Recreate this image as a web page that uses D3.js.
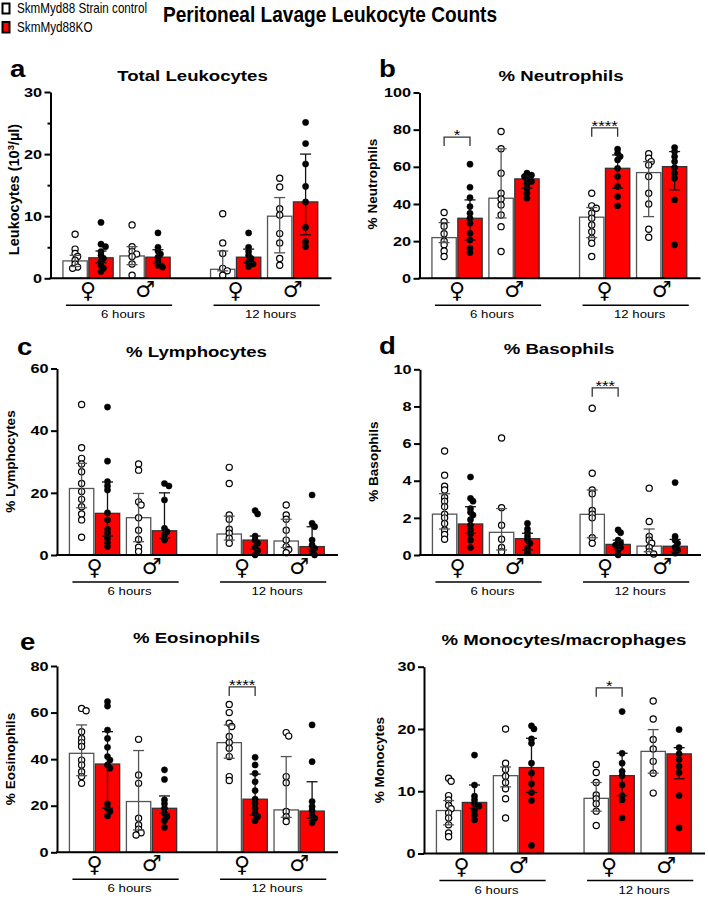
<!DOCTYPE html>
<html><head><meta charset="utf-8">
<script src="https://cdn.jsdelivr.net/npm/d3@7"></script>
<style>body{margin:0;background:#fff}svg{display:block}</style>
</head><body>
<script>
// ---------- DATA ----------
const genotypes = ["SkmMyd88 Strain control", "SkmMyd88KO"];
const sexes = ["♀", "♂"];
const timeLabels = ["6 hours", "12 hours"];
// order of groups: [6h F ctrl, 6h F KO, 6h M ctrl, 6h M KO, 12h F ctrl, 12h F KO, 12h M ctrl, 12h M KO]

// a: Total leukocytes
const aTicks = [0, 10, 20, 30];
const aMinorTicks = [5, 15, 25];
const aMeans = [2.8, 3.3, 3.6, 3.4, 1.45, 3.4, 10.0, 12.3];
const aHi = [3.7, 4.4, 5.1, 4.6, 4.4, 4.7, 13.0, 20.0];
const aLo = [1.9, 2.5, 2.2, 2.4, 1.2, 2.5, 4.1, 7.0];
const aPoints = [
  [7.1, 4.7, 4.0, 3.5, 2.9, 2.3, 1.8, 1.6],
  [9.0, 5.5, 5.1, 4.3, 3.7, 3.2, 2.7, 2.1, 1.6, 1.1],
  [8.6, 5.1, 4.3, 3.9, 3.5, 2.3, 0.5],
  [7.3, 5.0, 4.4, 3.9, 3.4, 2.7, 2.1, 1.8],
  [10.4, 5.7, 4.0, 1.6, 1.2, 0.5],
  [7.3, 5.0, 4.3, 3.7, 3.2, 2.7, 2.3, 1.9],
  [16.1, 14.7, 11.2, 10.2, 7.2, 5.7, 3.2, 2.1],
  [25.1, 21.7, 18.4, 14.8, 12.3, 8.2, 5.9, 5.1]
];

// b: % Neutrophils
const bTicks = [0, 20, 40, 60, 80, 100];
const bMeans = [21.9, 32.3, 43.1, 53.5, 32.9, 59.2, 56.9, 60.1];
const bHi = [30.0, 42.2, 69.7, 55.1, 38.1, 66.4, 62.8, 68.2];
const bLo = [19.2, 20.6, 32.5, 48.5, 21.9, 48.5, 33.2, 47.6];
const bPoints = [
  [35.4, 30.5, 28, 24, 20, 18, 14.7, 11.7],
  [61.4, 49.0, 43.4, 38.6, 35.0, 32.3, 29.6, 24.2, 20.6, 16.2, 13.8],
  [79.0, 69.7, 56.6, 45.8, 42.7, 39.5, 34.1, 27.8, 14.4],
  [56.6, 55.5, 54.8, 53.3, 52.1, 50.8, 48.5, 45.8, 43.1],
  [45.8, 39, 37.7, 35, 32.3, 28.7, 25.1, 21.5, 18.9, 11.7],
  [69.5, 67.3, 65.5, 63.7, 59.2, 54.8, 49.4, 44, 39],
  [67, 64.6, 62.8, 61, 54.8, 45.8, 40, 26.4, 22.1],
  [70.4, 68.2, 65.5, 62.8, 59.6, 56.6, 53.9, 42.2, 18]
];
const bSig = [{from: 0, to: 1, level: 76, label: "*"}, {from: 4, to: 5, level: 81, label: "****"}];

// c: % Lymphocytes
const cTicks = [0, 20, 40, 60];
const cMeans = [21.4, 13.4, 12.0, 7.8, 6.75, 4.8, 4.5, 2.7];
const cHi = [29.5, 23.5, 19.8, 20.0, 12.5, 6.1, 11.5, 9.1];
const cLo = [15.2, 6.1, 4.3, 5.4, 4.8, 1.8, 2.4, 1.8];
const cPoints = [
  [48.4, 34.5, 31.1, 29.3, 26.8, 23.0, 20.4, 17.9, 15.5, 13.2, 11.3, 5.7],
  [47.6, 30.2, 23.6, 22.2, 20.9, 13.6, 11.3, 8.3, 7.0, 5.4, 4.0, 2.7],
  [29.3, 27.3, 17.1, 16.1, 12.0, 8.0, 5.0, 2.5, 1.1],
  [23.0, 22.2, 17.7, 8.6, 7.5, 6.4, 4.8],
  [28.2, 23.0, 12.9, 11.5, 8.3, 7.0, 5.4, 3.8],
  [14.3, 13.2, 6.1, 4.8, 3.8, 2.5, 1.4, 0],
  [16.1, 12.9, 11.5, 8.0, 4.8, 2.7, 1.8, 0.75],
  [19.3, 10.2, 9.1, 4.8, 3.2, 2.1, 1.1, 0]
];

// d: % Basophils
const dTicks = [0, 2, 4, 6, 8, 10];
const dMeans = [2.2, 1.67, 1.22, 0.88, 2.19, 0.57, 0.48, 0.47];
const dHi = [3.3, 2.6, 2.5, 1.17, 3.5, 0.8, 1.4, 0.84];
const dLo = [1.4, 1.17, 0.27, 0.27, 0.93, 0.3, 0.18, 0.18];
const dPoints = [
  [5.6, 4.3, 3.7, 3.5, 3.1, 2.9, 2.6, 2.2, 2.0, 1.7, 1.35, 1.1, 0.85],
  [4.2, 3.05, 2.9, 2.5, 2.3, 2.15, 1.9, 1.6, 1.35, 1.13, 0.8, 0.4],
  [6.3, 2.55, 1.6, 0.85, 0.4, 0.18],
  [1.7, 1.4, 1.2, 1.0, 0.8, 0.63, 0.36, 0.13],
  [7.9, 4.4, 3.5, 3.3, 2.4, 2.2, 2.0, 0.93, 0.63],
  [1.35, 1.2, 0.8, 0.66, 0.54, 0.41, 0.27, 0],
  [3.6, 1.8, 1.0, 0.8, 0.63, 0.41, 0.18, 0.05],
  [3.9, 1.0, 0.8, 0.63, 0.41, 0.27, 0.1]
];
const dSig = [{from: 4, to: 5, level: 9.0, label: "***"}];

// e: % Eosinophils
const eTicks = [0, 20, 40, 60, 80];
const eMeans = [42.5, 37.9, 21.8, 18.9, 47.1, 22.8, 18.2, 17.7];
const eHi = [54.7, 51.8, 43.7, 24.2, 54.7, 33.6, 41.1, 30.3];
const eLo = [32.9, 18.9, 9.6, 16.7, 40.4, 16.0, 15.0, 14.6];
const ePoints = [
  [61.8, 60.8, 51.8, 48.9, 47.1, 45.4, 39.6, 37.5, 34.6, 32.5, 29.6],
  [64.7, 62.8, 52.5, 48.9, 45.1, 41.1, 39.6, 37.5, 36.1, 20.8, 18.9, 17.5, 15.6],
  [48.5, 33.2, 29.6, 14.6, 11.7, 9.9, 8.4, 7.4],
  [35.4, 31.3, 22.5, 20.8, 18.9, 16.7, 15.3, 13.6, 10.7],
  [63.5, 60.0, 55.4, 54, 49.7, 47.1, 44.7, 41.1, 32.5, 30.8],
  [40.8, 37.5, 33.9, 30.3, 26.5, 22.8, 21.0, 18.9, 16.7, 15.3, 13.6],
  [51.4, 49.9, 32.5, 29.9, 17.5, 15.3, 13.2],
  [54.7, 38.9, 21.8, 19.6, 17.9, 16.0, 14.6, 12.7]
];
const eSig = [{from: 4, to: 5, level: 71, label: "****"}];

// f: % Monocytes/macrophages
const fTicks = [0, 10, 20, 30];
const fMeans = [6.9, 8.2, 12.5, 13.8, 8.86, 12.5, 16.4, 16.0];
const fHi = [8.5, 11.0, 13.9, 18.5, 11.4, 16.1, 19.9, 17.0];
const fLo = [4.6, 7.3, 10.7, 9.8, 6.8, 9.3, 12.9, 12.0];
const fPoints = [
  [12.1, 11.6, 9.3, 8.6, 7.7, 7.2, 6.5, 5.7, 4.6, 3.3, 2.7],
  [15.8, 11.0, 9.2, 8.6, 8.0, 7.6, 6.9, 6.2, 5.4],
  [20.0, 14.5, 13.5, 12.4, 11.4, 10.4, 8.8, 5.7],
  [20.5, 20.0, 18.4, 17.7, 14.5, 12.9, 11.2, 9.8, 8.5, 1.3],
  [14.3, 13.0, 11.4, 9.4, 8.8, 8.0, 6.8, 4.5],
  [22.8, 16.1, 14.5, 13.2, 12.5, 11.0, 9.3, 8.6, 5.7],
  [24.5, 21.6, 18.3, 16.8, 14.8, 12.9, 9.7],
  [19.9, 17.0, 16.0, 15.1, 14.0, 13.0, 9.3, 4.1]
];
const fSig = [{from: 4, to: 5, level: 26.6, label: "*"}];

const panelData = [
  {letter: "a", title: "Total Leukocytes", ylabel: ["Leukocytes (10", "3", "/µl)"], ticks: aTicks, minor: aMinorTicks, means: aMeans, hi: aHi, lo: aLo, points: aPoints, sig: []},
  {letter: "b", title: "% Neutrophils", ylabel: ["% Neutrophils"], ticks: bTicks, minor: [], means: bMeans, hi: bHi, lo: bLo, points: bPoints, sig: bSig},
  {letter: "c", title: "% Lymphocytes", ylabel: ["% Lymphocytes"], ticks: cTicks, minor: [], means: cMeans, hi: cHi, lo: cLo, points: cPoints, sig: []},
  {letter: "d", title: "% Basophils", ylabel: ["% Basophils"], ticks: dTicks, minor: [], means: dMeans, hi: dHi, lo: dLo, points: dPoints, sig: dSig},
  {letter: "e", title: "% Eosinophils", ylabel: ["% Eosinophils"], ticks: eTicks, minor: [], means: eMeans, hi: eHi, lo: eLo, points: ePoints, sig: eSig},
  {letter: "", title: "% Monocytes/macrophages", ylabel: ["% Monocytes"], ticks: fTicks, minor: [], means: fMeans, hi: fHi, lo: fLo, points: fPoints, sig: fSig}
];

// ---------- LAYOUT ----------
const W = 708, H = 901;
const FONT = "'Liberation Sans', Arial, Helvetica, sans-serif";
const SX = 1.2; // horizontal stretch of panel text
const RED = "#ff0000";
const layouts = [
  {axisX: 50.5, yTop: 92, yBot: 278.3, lx: 10, ly: 77, tx: 192.5, ty: 81, labX: 18.5, labY: 189.5, labSize: 14.5},
  {axisX: 419.5, yTop: 92.5, yBot: 278.3, lx: 379, ly: 77, tx: 561, ty: 81, labX: 377, labY: 184, labSize: 13.5},
  {axisX: 57, yTop: 368.5, yBot: 555, lx: 17, ly: 355, tx: 196.5, ty: 356.5, labX: 15, labY: 461.5, labSize: 13.5},
  {axisX: 420, yTop: 369.3, yBot: 555, lx: 379, ly: 354, tx: 559, ty: 354, labX: 378, labY: 461.5, labSize: 13.5},
  {axisX: 57, yTop: 666, yBot: 852.3, lx: 20, ly: 650, tx: 196.5, ty: 643, labX: 15, labY: 759, labSize: 13.5},
  {axisX: 424, yTop: 666.7, yBot: 853.5, lx: 0, ly: 0, tx: 564, ty: 645, labX: 384, labY: 760, labSize: 13.5}
];
const AXIS_W = 281;

const svg = d3.select("body").append("svg").attr("width", W).attr("height", H)
  .attr("font-family", FONT);

function sText(parent, x, y, str, o = {}) {
  return parent.append("text")
    .attr("transform", `translate(${x},${y}) scale(${o.sx ?? SX},1)`)
    .attr("text-anchor", o.anchor || "middle")
    .attr("font-size", o.size || 12)
    .attr("font-weight", o.weight || "bold")
    .attr("font-family", o.family || FONT)
    .attr("fill", o.fill || "#000")
    .text(str);
}

// ---------- HEADER ----------
const header = svg.append("g");
header.append("rect").attr("x", 2.5).attr("y", 3.5).attr("width", 7).attr("height", 10)
  .attr("fill", "#fff").attr("stroke", "#000").attr("stroke-width", 2);
header.append("rect").attr("x", 2.5).attr("y", 22).attr("width", 7).attr("height", 10.5)
  .attr("fill", RED).attr("stroke", "#000").attr("stroke-width", 2);
header.append("text").attr("x", 17).attr("y", 12.8).attr("font-size", 14.5)
  .attr("textLength", 130).attr("lengthAdjust", "spacingAndGlyphs").text(genotypes[0]);
header.append("text").attr("x", 17).attr("y", 32.3).attr("font-size", 14.5)
  .attr("textLength", 75.5).attr("lengthAdjust", "spacingAndGlyphs").text(genotypes[1]);
header.append("text").attr("x", 163).attr("y", 21.7).attr("font-size", 21.5).attr("font-weight", "bold")
  .attr("textLength", 334).attr("lengthAdjust", "spacingAndGlyphs").text("Peritoneal Lavage Leukocyte Counts");

// ---------- PANELS ----------
const slotOf = i => Math.floor(i / 4) * 5.7 + Math.floor((i % 4) / 2) * 2.2 + (i % 2);

panelData.forEach((pd, k) => {
  const L = layouts[k];
  const g = svg.append("g");
  const max = pd.ticks[pd.ticks.length - 1];
  const x = d3.scaleLinear().domain([-0.95, 9.9]).range([L.axisX, L.axisX + AXIS_W]);
  const y = d3.scaleLinear().domain([0, max]).range([L.yBot, L.yTop]);
  const bw = x(0.47) - x(-0.47);

  // letter + title
  if (pd.letter) sText(g, L.lx, L.ly, pd.letter, {size: 23, anchor: "start"});
  sText(g, L.tx, L.ty, pd.title, {size: 15.5});

  // y label
  const lab = g.append("text")
    .attr("transform", `translate(${L.labX},${L.labY}) rotate(-90)`)
    .attr("text-anchor", "middle").attr("font-size", L.labSize).attr("font-weight", "bold");
  lab.append("tspan").text(pd.ylabel[0]);
  if (pd.ylabel.length > 1) {
    lab.append("tspan").attr("dy", -5).attr("font-size", L.labSize * 0.65).text(pd.ylabel[1]);
    lab.append("tspan").attr("dy", 5).text(pd.ylabel[2]);
  }

  // bars
  const idx = d3.range(8);
  g.selectAll("rect.bar").data(idx).join("rect").attr("class", "bar")
    .attr("x", i => x(slotOf(i)) - bw / 2)
    .attr("width", bw)
    .attr("y", i => y(pd.means[i]))
    .attr("height", i => y(0) - y(pd.means[i]))
    .attr("fill", i => i % 2 ? RED : "#fff")
    .attr("stroke", i => i % 2 ? "#333" : "#555")
    .attr("stroke-width", 1.3);

  // points with simple deterministic dodge
  const r = 3.1;
  idx.forEach(i => {
    const cx = x(slotOf(i));
    const placed = [];
    pd.points[i].slice().sort((a, b) => b - a).forEach(v => {
      const py = y(v);
      const offs = [0, 2.5, -2.5, 4.5, -4.5];
      let best = 0, bestD = -1;
      for (const o of offs) {
        let dmin = Infinity;
        placed.forEach(p => { dmin = Math.min(dmin, Math.hypot(p.o - o, p.y - py)); });
        if (dmin >= 3.6) { best = o; bestD = dmin; break; }
        if (dmin > bestD) { bestD = dmin; best = o; }
      }
      placed.push({o: best, y: py, v});
    });
    g.selectAll(null).data(placed).join("circle")
      .attr("cx", p => cx + p.o).attr("cy", p => p.y).attr("r", r)
      .attr("fill", i % 2 ? "#000" : "#fff")
      .attr("stroke", "#000").attr("stroke-width", i % 2 ? 0.5 : 1.2);
  });

  // error bars
  const cap = 5.5;
  idx.forEach(i => {
    const cx = x(slotOf(i));
    const col = i % 2 ? "#111" : "#555";
    const eg = g.append("g").attr("stroke", col).attr("stroke-width", 1.3).attr("fill", "none");
    eg.append("line").attr("x1", cx).attr("x2", cx).attr("y1", y(pd.lo[i])).attr("y2", y(pd.hi[i]));
    [pd.lo[i], pd.hi[i]].forEach(v => {
      eg.append("line").attr("x1", cx - cap).attr("x2", cx + cap).attr("y1", y(v)).attr("y2", y(v));
    });
  });

  // axes
  const TSX = 1.25;
  const yAxis = d3.axisLeft(y).tickValues(pd.ticks).tickSize(6).tickSizeOuter(0).tickPadding(2.5)
    .tickFormat(d3.format("d"));
  const ya = g.append("g").attr("transform", `translate(${L.axisX},0)`).call(yAxis);
  ya.select(".domain").attr("stroke-width", 2);
  ya.selectAll(".tick line").attr("stroke-width", 2);
  ya.selectAll(".tick text").attr("font-family", FONT).attr("font-size", 13).attr("font-weight", "bold")
    .attr("fill", "#000").attr("x", -8.5 / TSX).attr("transform", `scale(${TSX},1)`);
  if (pd.minor.length) {
    const ym = g.append("g").attr("transform", `translate(${L.axisX},0)`)
      .call(d3.axisLeft(y).tickValues(pd.minor).tickSize(3).tickSizeOuter(0).tickFormat(""));
    ym.select(".domain").remove();
    ym.selectAll(".tick line").attr("stroke-width", 2);
  }
  g.append("line").attr("x1", L.axisX - 1).attr("x2", L.axisX + AXIS_W)
    .attr("y1", y(0)).attr("y2", y(0)).attr("stroke", "#000").attr("stroke-width", 2);

  // sex symbols and time groups
  [0, 1].forEach(t => {
    [0, 1].forEach(s => {
      const cx = x(t * 5.7 + s * 2.2 + 0.5);
      sText(g, cx, y(0) + (s ? 19 : 20), sexes[s], {size: 22, family: "'DejaVu Sans', sans-serif", sx: 1});
    });
    const gx0 = x(t * 5.7) - bw / 2 + 3, gx1 = x(t * 5.7 + 3.2) + bw / 2 + 2;
    g.append("line").attr("x1", gx0).attr("x2", gx1).attr("y1", y(0) + 27).attr("y2", y(0) + 27)
      .attr("stroke", "#000").attr("stroke-width", 1.5);
    sText(g, (gx0 + gx1) / 2 + 4, y(0) + 40, timeLabels[t], {size: 11, weight: "normal"});
  });

  // significance brackets
  pd.sig.forEach(s => {
    const x1 = x(slotOf(s.from)), x2 = x(slotOf(s.to)), yy = y(s.level);
    g.append("path").attr("d", `M${x1},${yy + 9}V${yy}H${x2}V${yy + 9}`)
      .attr("fill", "none").attr("stroke", "#333").attr("stroke-width", 1.3);
    sText(g, (x1 + x2) / 2, yy + 3, s.label, {size: 14, weight: "normal"});
  });
});
</script>
</body></html>
